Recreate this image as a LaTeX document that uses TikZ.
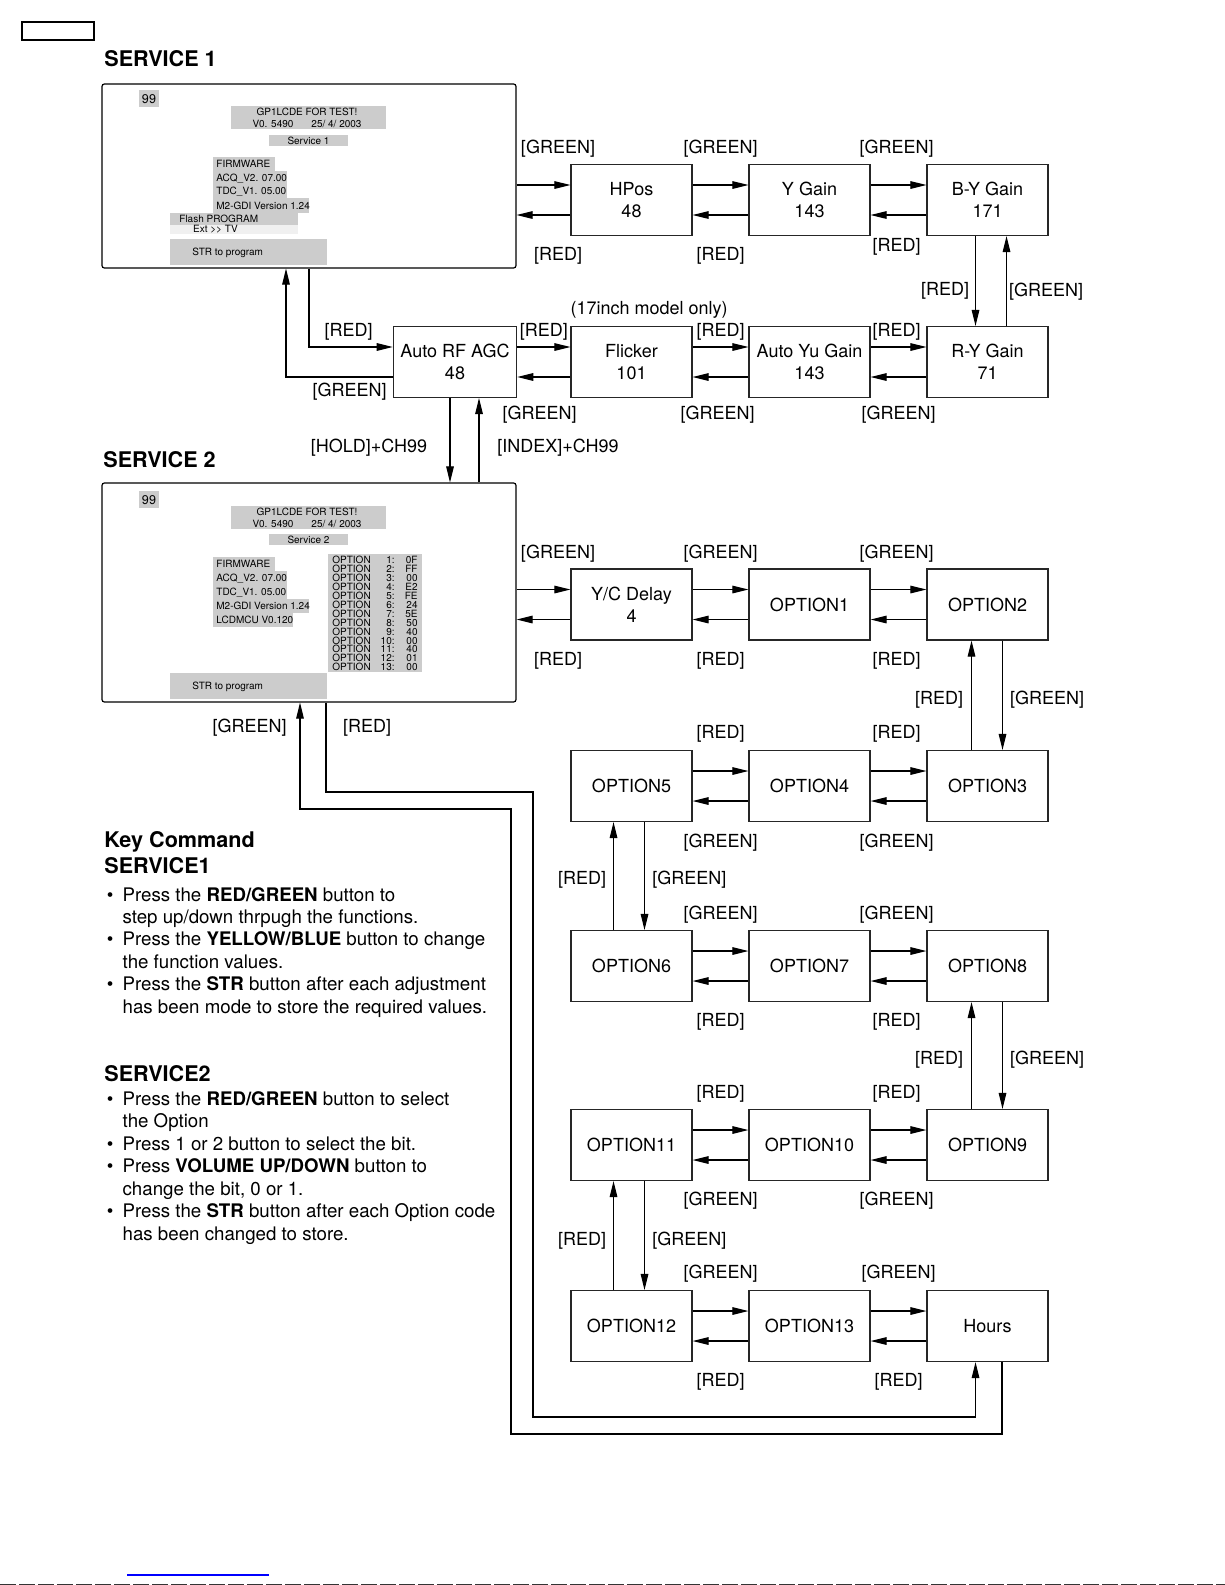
\documentclass[tikz,border=0pt]{standalone}
\usepackage{fontspec}
\setmainfont{TeX Gyre Heros}
\usetikzlibrary{arrows.meta,calc}
\definecolor{scrgray}{gray}{0.80}
\definecolor{scrlight}{gray}{0.94}
\newcommand\hp[2]{%
  \draw[arr] ($(#1.east)+(0,-15)$) -- ($(#2.west)+(0,-15)$);
  \draw[arr] ($(#2.west)+(0,15)$) -- ($(#1.east)+(0,15)$);}
\newcommand\vp[4]{%
  \coordinate (vpa) at ($(#1.south)+(#3,0)$);
  \coordinate (vpb) at ($(#1.south)+(#4,0)$);
  \draw[arr] (vpa) -- (vpa |- #2.north);
  \draw[arr] (vpb |- #2.north) -- (vpb);}
\begin{document}
\begin{tikzpicture}[x=0.5pt,y=-0.5pt,
  arr/.style={-{Triangle[length=8pt,width=3.8pt]}, line width=0.55pt},
  fbox/.style={draw=black!85, line width=0.6pt, minimum width=60.5pt, minimum height=35.5pt, inner sep=0pt, align=center, font=\fontsize{9}{11}\selectfont},
  lbl/.style={inner sep=0pt, yshift=-1.2pt, font=\fontsize{9}{11}\selectfont},
  scr/.style={draw, line width=0.6pt, rounded corners=1.2pt, inner sep=0pt},
  st/.style={inner sep=0pt, font=\fontsize{5}{5.8}\selectfont},
  head/.style={inner sep=0pt, anchor=base west, font=\fontsize{10.8}{12.5}\selectfont\bfseries},
  body/.style={inner sep=0pt, anchor=base west},
]
\useasboundingbox (0,0) rectangle (1225,1585);
\fill[white] (0,0) rectangle (1225,1585);
\draw[line width=0.6pt] (22,22) rectangle (94,40);

\node[head] (t1) at (104,66.5) {SERVICE 1};
\node[head] (t2) at (103,467) {SERVICE 2};

% ---------- screen 1
\node[scr, minimum width=207pt, minimum height=92pt] (scr1) at (309,176) {};
\fill[scrgray] (139,90) rectangle (159,107);
\node[st, font=\fontsize{6.3}{7}\selectfont] (s1n) at (149,99.5) {99};
\fill[scrgray] (231,106) rectangle (386,129);
\node[st, align=center] (s1t) at (307,118) {GP1LCDE FOR TEST!\\V0. 5490\hspace{9pt}25/ 4/ 2003};
\fill[scrgray] (269,135) rectangle (348,146);
\node[st] (s1s) at (308.5,140.5) {Service 1};
\fill[scrgray] (213,157) rectangle (275,171);
\node[st, anchor=base west] (s1f1) at (216,167.5) {FIRMWARE};
\fill[scrgray] (213,171) rectangle (287,184);
\node[st, anchor=base west] (s1f2) at (216,181) {ACQ\_V2. 07.00};
\fill[scrgray] (213,184) rectangle (287,198);
\node[st, anchor=base west] (s1f3) at (216,194.5) {TDC\_V1. 05.00};
\fill[scrgray] (213,198) rectangle (309,213);
\node[st, anchor=base west] (s1f4) at (216,209) {M2-GDI Version 1.24};
\fill[scrgray] (170,213) rectangle (298,225);
\node[st, anchor=base west] (s1fp) at (179,222.5) {Flash PROGRAM};
\fill[scrlight] (170,225) rectangle (298,234);
\node[st, anchor=base west] (s1ext) at (192.7,232.5) {Ext >\kern0pt> TV};
\fill[scrgray] (170,239) rectangle (327,265);
\node[st, anchor=base west] (s1str) at (192,255.5) {STR to program};

% ---------- screen 2
\node[scr, minimum width=207pt, minimum height=109.5pt] (scr2) at (309,592.5) {};
\fill[scrgray] (139,491) rectangle (159,508);
\node[st, font=\fontsize{6.3}{7}\selectfont] (s2n) at (149,500.5) {99};
\fill[scrgray] (231,506) rectangle (386,529);
\node[st, align=center] (s2t) at (307,518) {GP1LCDE FOR TEST!\\V0. 5490\hspace{9pt}25/ 4/ 2003};
\fill[scrgray] (269,534) rectangle (348,545);
\node[st] (s2s) at (308.5,539.5) {Service 2};
\fill[scrgray] (213,557) rectangle (275,571);
\node[st, anchor=base west] (s2f1) at (216,567.5) {FIRMWARE};
\fill[scrgray] (213,571) rectangle (287,585);
\node[st, anchor=base west] (s2f2) at (216,581.5) {ACQ\_V2. 07.00};
\fill[scrgray] (213,585) rectangle (287,599);
\node[st, anchor=base west] (s2f3) at (216,595.5) {TDC\_V1. 05.00};
\fill[scrgray] (213,599) rectangle (309,613);
\node[st, anchor=base west] (s2f4) at (216,609.5) {M2-GDI Version 1.24};
\fill[scrgray] (213,613) rectangle (293,627);
\node[st, anchor=base west] (s2f5) at (216,623.5) {LCDMCU V0.120};
\fill[scrgray] (328,554) rectangle (422,672);
\foreach \v [count=\i] in {0F,FF,00,E2,FE,24,5E,50,40,00,40,01,00} {
  \node[st, anchor=base west] (ol\i) at (332,{554.6+\i*8.94}) {OPTION};
  \node[st, anchor=base east] (on\i) at (395,{554.6+\i*8.94}) {\i:};
  \node[st, anchor=base east] (ov\i) at (418,{554.6+\i*8.94}) {\v};
}
\fill[scrgray] (170,673) rectangle (327,699);
\node[st, anchor=base west] (s2str) at (192,689.5) {STR to program};

% ---------- flow boxes
\node[fbox] (hpos) at (631.5,200) {HPos\\48};
\node[fbox] (ygain) at (809.5,200) {Y Gain\\143};
\node[fbox] (bygain) at (987.5,200) {B-Y Gain\\171};
\node[fbox, minimum width=61.7pt] (agc) at (455,362) {Auto RF AGC\\48};
\node[fbox] (flicker) at (631.5,362) {Flicker\\101};
\node[fbox] (ayu) at (809.5,362) {Auto Yu Gain\\143};
\node[fbox] (rygain) at (987.5,362) {R-Y Gain\\71};
\node[fbox] (ycd) at (631.5,604.5) {Y/C Delay\\4};
\node[fbox] (op1) at (809.5,604.5) {OPTION1};
\node[fbox] (op2) at (987.5,604.5) {OPTION2};
\node[fbox] (op5) at (631.5,786) {OPTION5};
\node[fbox] (op4) at (809.5,786) {OPTION4};
\node[fbox] (op3) at (987.5,786) {OPTION3};
\node[fbox] (op6) at (631.5,966) {OPTION6};
\node[fbox] (op7) at (809.5,966) {OPTION7};
\node[fbox] (op8) at (987.5,966) {OPTION8};
\node[fbox] (op11) at (631.5,1145) {OPTION11};
\node[fbox] (op10) at (809.5,1145) {OPTION10};
\node[fbox] (op9) at (987.5,1145) {OPTION9};
\node[fbox] (op12) at (631.5,1326) {OPTION12};
\node[fbox] (op13) at (809.5,1326) {OPTION13};
\node[fbox] (hours) at (987.5,1326) {Hours};

% ---------- horizontal pairs
\coordinate (h1a) at ($(hpos.west)+(0,-15)$);
\coordinate (h1b) at ($(hpos.west)+(0,15)$);
\draw[arr] (scr1.east |- h1a) -- (h1a);
\draw[arr] (h1b) -- (scr1.east |- h1b);
\hp{hpos}{ygain}
\hp{ygain}{bygain}
\hp{agc}{flicker}
\hp{flicker}{ayu}
\hp{ayu}{rygain}
\coordinate (h3a) at ($(ycd.west)+(0,-15)$);
\coordinate (h3b) at ($(ycd.west)+(0,15)$);
\draw[arr] (scr2.east |- h3a) -- (h3a);
\draw[arr] (h3b) -- (scr2.east |- h3b);
\hp{ycd}{op1}
\hp{op1}{op2}
\hp{op5}{op4}
\hp{op4}{op3}
\hp{op6}{op7}
\hp{op7}{op8}
\hp{op11}{op10}
\hp{op10}{op9}
\hp{op12}{op13}
\hp{op13}{hours}

% ---------- vertical pairs
\vp{bygain}{rygain}{-12}{19}
\vp{op2}{op3}{15}{-16}
\vp{op8}{op9}{15}{-16}
\vp{op5}{op6}{13}{-18}
\vp{op11}{op12}{13}{-18}
\vp{agc}{scr2}{-5}{24}

% ---------- screen 1 <-> AGC
\coordinate (ra) at ($(agc.west)+(0,-15)$);
\coordinate (ga) at ($(agc.west)+(0,15)$);
\draw[arr] (scr1.south) |- (ra);
\draw[arr] (ga) -| ($(scr1.south)+(-23,0)$);

% ---------- screen 2 loops
\coordinate (rk1) at (533,792);
\coordinate (rk2) at (533,1417);
\draw[arr] ($(scr2.south)+(17,0)$) |- (rk1) -- (rk2) -| ($(hours.south)+(-12,0)$);
\coordinate (gk1) at (511,1434);
\coordinate (gk2) at (511,809);
\draw[arr] ($(hours.south)+(14.5,0)$) |- (gk1) -- (gk2) -| ($(scr2.south)+(-9,0)$);

% ---------- labels
\foreach \x/\y/\t [count=\i] in {
  558/146.5/GREEN, 720.6/146.5/GREEN, 896.5/146.5/GREEN,
  558/253.7/RED, 720.6/253.7/RED, 896.5/244.6/RED, 945/288/RED, 1046/289/GREEN,
  543.8/329.5/RED, 720.6/329.5/RED, 896.5/329.5/RED, 348.7/329.5/RED,
  539.7/412.4/GREEN, 717.6/412.4/GREEN, 898.5/412.4/GREEN, 349.7/389/GREEN,
  558/551/GREEN, 720.6/551/GREEN, 896.5/551/GREEN,
  558/658/RED, 720.6/658/RED, 896.5/658/RED, 939/697.4/RED, 1047/697.4/GREEN,
  249.6/725.7/GREEN, 367/725.7/RED,
  720.6/731.7/RED, 896.5/731.7/RED, 720.6/840/GREEN, 896.5/840/GREEN,
  582/877.3/RED, 689.3/877.3/GREEN,
  720.6/912.7/GREEN, 896.5/912.7/GREEN, 720.6/1019.8/RED, 896.5/1019.8/RED,
  939/1057.2/RED, 1047/1057.2/GREEN,
  720.6/1091.6/RED, 896.5/1091.6/RED, 720.6/1198.7/GREEN, 896.5/1198.7/GREEN,
  582/1238/RED, 689.3/1238/GREEN,
  720.6/1271.5/GREEN, 898.5/1271.5/GREEN, 720.6/1379.6/RED, 898.5/1379.6/RED}
  \node[lbl] (lab\i) at (\x,\y) {[\t]};
\node[lbl] (m17) at (649,307) {(17inch model only)};
\node[lbl] (hold) at (369,445.7) {[HOLD]+CH99};
\node[lbl] (index) at (558,445.7) {[INDEX]+CH99};

% ---------- key command
\node[head] (kc) at (104,847.5) {Key Command};
\node[head] (kc1) at (104,873.5) {SERVICE1};
\node[body, font=\fontsize{9.35}{11.2}\selectfont] (kl1) at (106.5,901) {\begin{tabular}[t]{@{}l@{\hspace{4.6pt}}l@{}}
\textbullet & Press the \textbf{RED/GREEN} button to\\
 & step up/down thrpugh the functions.\\
\textbullet & Press the \textbf{YELLOW/BLUE} button to change\\
 & the function values.\\
\textbullet & Press the \textbf{STR} button after each adjustment\\
 & has been mode to store the required values.
\end{tabular}};
\node[head] (kc2) at (104,1081.7) {SERVICE2};
\node[body, font=\fontsize{9.35}{11.25}\selectfont] (kl2) at (106.5,1105) {\begin{tabular}[t]{@{}l@{\hspace{4.6pt}}l@{}}
\textbullet & Press the \textbf{RED/GREEN} button to select\\
 & the Option\\
\textbullet & Press 1 or 2 button to select the bit.\\
\textbullet & Press \textbf{VOLUME UP/DOWN} button to\\
 & change the bit, 0 or 1.\\
\textbullet & Press the \textbf{STR} button after each Option code\\
 & has been changed to store.
\end{tabular}};

\draw[blue, line width=0.7pt] (127,1575) -- (269,1575);
\draw[black!80, line width=0.5pt, dash pattern=on 8pt off 1.5pt] (0,1584.5) -- (1225,1584.5);
\end{tikzpicture}
\end{document}
